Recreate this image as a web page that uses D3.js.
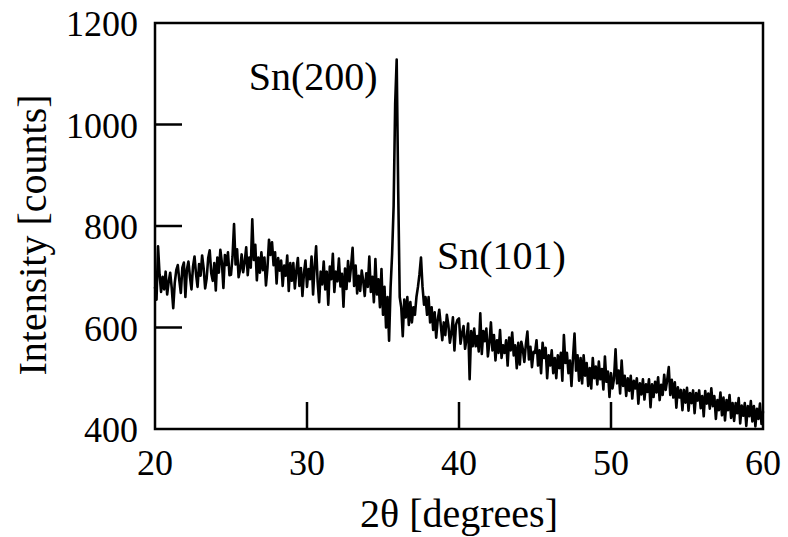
<!DOCTYPE html>
<html>
<head>
<meta charset="utf-8">
<script src="https://cdn.jsdelivr.net/npm/d3@7"></script>
<style>
  html, body { margin: 0; padding: 0; background: #fff; }
  svg { display: block; }
  text { font-family: "Liberation Serif", "Times New Roman", serif; fill: #000; }
</style>
</head>
<body>
<svg id="chart" width="788" height="537"></svg>
<script>
// ---- data ----
const angleStart = 20;      // 2θ of first sample [degrees]
const angleStep = 0.1;      // sampling step [degrees]
const intensity = [
  680, 655, 760, 705, 670, 700, 675, 710, 665, 690,
  708, 678, 638, 688, 713, 723, 693, 668, 718, 728,
  660, 715, 730, 700, 675, 720, 740, 705, 680, 725,
  702, 742, 717, 677, 697, 737, 752, 707, 692, 727,
  673, 738, 708, 753, 728, 678, 743, 723, 748, 703,
  704, 739, 804, 724, 754, 699, 714, 744, 709, 729,
  758, 703, 738, 718, 813, 733, 763, 693, 738, 708,
  748, 713, 738, 683, 718, 773, 743, 768, 723, 748,
  687, 737, 712, 732, 682, 722, 702, 742, 672, 727,
  692, 727, 677, 712, 737, 682, 717, 662, 707, 732,
  680, 715, 695, 740, 665, 720, 760, 690, 650, 710,
  685, 730, 675, 710, 645, 720, 695, 745, 670, 710,
  691, 736, 681, 706, 641, 716, 676, 731, 691, 721,
  757, 682, 722, 667, 702, 672, 712, 692, 662, 707,
  680, 740, 670, 700, 650, 735, 665, 695, 640, 715,
  625, 680, 600, 660, 574, 680, 745, 840, 1040, 1128,
  870, 660, 640, 583, 655, 620, 660, 605, 650, 610,
  640, 625, 660, 680, 705, 738, 680, 645, 660, 625,
  660, 610, 640, 595, 630, 580, 615, 635, 605, 575,
  610, 585, 625, 605, 570, 590, 620, 555, 605, 615,
  618, 568, 588, 603, 558, 578, 608, 498, 593, 563,
  598, 563, 583, 553, 628, 548, 593, 573, 598, 543,
  570, 610, 555, 585, 535, 575, 550, 595, 540, 565,
  550, 575, 525, 580, 555, 590, 545, 565, 520, 570,
  527, 572, 557, 532, 567, 592, 537, 562, 522, 552,
  550, 575, 525, 555, 510, 570, 540, 560, 500, 545,
  525, 555, 510, 540, 500, 545, 520, 550, 495, 585,
  530, 550, 510, 535, 485, 540, 588, 515, 545, 495,
  540, 490, 545, 505, 530, 485, 520, 480, 540, 500,
  523, 488, 533, 498, 518, 478, 543, 493, 513, 463,
  510, 480, 500, 557, 490, 515, 470, 535, 485, 505,
  465, 500, 475, 505, 460, 495, 480, 500, 450, 490,
  468, 498, 458, 488, 473, 498, 443, 488, 463, 493,
  472, 502, 457, 487, 467, 507, 477, 497, 522, 467,
  497, 462, 492, 442, 482, 462, 477, 437, 477, 452,
  481, 436, 471, 451, 476, 431, 471, 456, 476, 441,
  465, 425, 475, 450, 470, 440, 480, 445, 465, 420,
  457, 437, 472, 427, 462, 417, 457, 437, 467, 422,
  451, 416, 451, 431, 461, 411, 446, 426, 451, 406,
  445, 425, 455, 415, 445, 405, 440, 420, 450, 410,
  435
];
const xTicks = [20, 30, 40, 50, 60];
const yTicks = [400, 600, 800, 1000, 1200];
const xDomain = [20, 60];
const yDomain = [400, 1200];
const peakLabels = [
  { text: "Sn(200)", angle: 35.9, value: 1128 },
  { text: "Sn(101)", angle: 37.5, value: 738 }
];
const xTitle = "2θ [degrees]";
const yTitle = "Intensity [counts]";

// ---- layout ----
const mLeft = 155, mRight = 763, mTop = 23, mBottom = 429;
const svg = d3.select("#chart");

const x = d3.scaleLinear().domain(xDomain).range([mLeft, mRight]);
const y = d3.scaleLinear().domain(yDomain).range([mBottom, mTop]);

const pts = intensity.map((v, i) => [angleStart + i * angleStep, v]);

// data line
svg.append("path")
  .datum(pts)
  .attr("fill", "none")
  .attr("stroke", "#000")
  .attr("stroke-width", 2.6)
  .attr("stroke-linejoin", "round")
  .attr("d", d3.line().x(d => x(d[0])).y(d => y(d[1])));

// frame
svg.append("rect")
  .attr("x", mLeft).attr("y", mTop)
  .attr("width", mRight - mLeft).attr("height", mBottom - mTop)
  .attr("fill", "none").attr("stroke", "#000").attr("stroke-width", 2.5);

// inward ticks
const tickLen = 27;
svg.selectAll(".xt").data(xTicks.slice(1, -1)).enter().append("line")
  .attr("x1", d => x(d)).attr("x2", d => x(d))
  .attr("y1", mBottom).attr("y2", mBottom - tickLen)
  .attr("stroke", "#000").attr("stroke-width", 2.5);
svg.selectAll(".yt").data(yTicks.slice(1, -1)).enter().append("line")
  .attr("x1", mLeft).attr("x2", mLeft + tickLen)
  .attr("y1", d => y(d)).attr("y2", d => y(d))
  .attr("stroke", "#000").attr("stroke-width", 2.5);

// tick labels
svg.selectAll(".xl").data(xTicks).enter().append("text")
  .attr("x", d => x(d)).attr("y", 475)
  .attr("text-anchor", "middle")
  .style("font-size", "36px")
  .text(d => d);
svg.selectAll(".yl").data(yTicks).enter().append("text")
  .attr("x", 138).attr("y", d => y(d) + 13)
  .attr("text-anchor", "end")
  .style("font-size", "36px")
  .text(d => d);

// axis titles
svg.append("text")
  .attr("x", (mLeft + mRight) / 2).attr("y", 527)
  .attr("text-anchor", "middle")
  .style("font-size", "40px")
  .text(xTitle);
svg.append("text")
  .attr("transform", `translate(46, ${(mBottom + mTop) / 2 + 9}) rotate(-90)`)
  .attr("text-anchor", "middle")
  .style("font-size", "40px")
  .text(yTitle);

// peak labels
svg.append("text")
  .attr("x", x(peakLabels[0].angle) - 19).attr("y", 90)
  .attr("text-anchor", "end")
  .style("font-size", "40px")
  .text(peakLabels[0].text);
svg.append("text")
  .attr("x", x(peakLabels[1].angle) + 16).attr("y", 269)
  .attr("text-anchor", "start")
  .style("font-size", "40px")
  .text(peakLabels[1].text);
</script>
</body>
</html>
